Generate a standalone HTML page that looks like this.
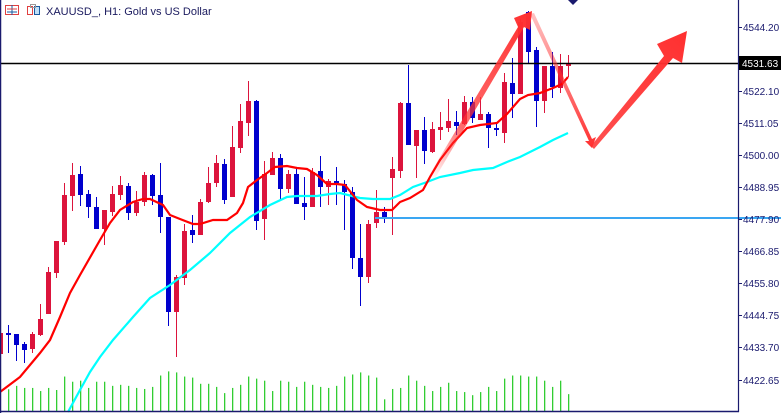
<!DOCTYPE html>
<html><head><meta charset="utf-8">
<style>
html,body{margin:0;padding:0;background:#fff;}
#c{position:relative;width:781px;height:413px;overflow:hidden;background:#fff;font-family:"Liberation Sans",sans-serif;}
</style></head>
<body>
<div id="c">
<svg id="s" width="781" height="413" viewBox="0 0 781 413" xmlns="http://www.w3.org/2000/svg" style="position:absolute;left:0;top:0">
<defs>
<linearGradient id="g1" x1="430" y1="178" x2="532" y2="12" gradientUnits="userSpaceOnUse">
<stop offset="0" stop-color="#ff3030" stop-opacity="0"/><stop offset="0.3" stop-color="#ff3030" stop-opacity="0.7"/><stop offset="1" stop-color="#ff3030" stop-opacity="1"/></linearGradient>
<linearGradient id="g2" x1="532" y1="14" x2="592" y2="148" gradientUnits="userSpaceOnUse">
<stop offset="0" stop-color="#ff3030" stop-opacity="0.3"/><stop offset="1" stop-color="#ff3030" stop-opacity="1"/></linearGradient>
<linearGradient id="g3" x1="592" y1="146" x2="687" y2="32" gradientUnits="userSpaceOnUse">
<stop offset="0" stop-color="#ff3030" stop-opacity="0.85"/><stop offset="1" stop-color="#ff3030" stop-opacity="1"/></linearGradient>
</defs>
<g id="vol"></g>
<g id="cand"></g>
<g id="ma"></g>
<line x1="0" y1="63.5" x2="739" y2="63.5" stroke="#000" stroke-width="1.5"/>
<line x1="375" y1="218" x2="781" y2="218" stroke="#3aa6f2" stroke-width="2"/>
<polygon points="428,177 518,27 514,18 532,11 530,30 524,27 434,180" fill="url(#g1)"/>
<polygon points="530,14 534,13 592,139 596,137 592,148 585,141 589,141" fill="url(#g2)"/>
<polygon points="591,146 664,56 657,44 687,31 682,63 673,58 594,149" fill="url(#g3)"/>
<polygon points="568,0 578,0 573,5" fill="#1a1a6e"/>
<line x1="0.5" y1="0" x2="0.5" y2="413" stroke="#1a1a6e" stroke-width="1.5"/>
<line x1="738.5" y1="0" x2="738.5" y2="412" stroke="#1a1a6e" stroke-width="1.2"/>
<line x1="0" y1="411.5" x2="739" y2="411.5" stroke="#1a1a6e" stroke-width="1.5"/>
<g id="ax" font-family="Liberation Sans, sans-serif" font-size="10" fill="#1a1a6e"></g>
<rect x="739" y="56" width="42" height="14" fill="#000"/>
<text x="742" y="67" font-family="Liberation Sans, sans-serif" font-size="10" fill="#fff">4531.63</text>
<g>
<rect x="5.5" y="5.5" width="13" height="9" fill="none" stroke="#e04040"/>
<line x1="12" y1="5" x2="12" y2="15" stroke="#1a5aa0"/>
<line x1="7" y1="9" x2="17" y2="9" stroke="#e04040"/><line x1="7" y1="12" x2="17" y2="12" stroke="#1a5aa0"/>
<rect x="27.5" y="6.5" width="5" height="8" fill="none" stroke="#e04040"/>
<rect x="34.5" y="6.5" width="5" height="8" fill="#bfe0f8" stroke="#1a5aa0"/>
<rect x="30.5" y="4.5" width="5" height="3" fill="none" stroke="#999"/>
</g>
<text x="46" y="15" font-family="Liberation Sans, sans-serif" font-size="11" fill="#1a1a5e">XAUUSD_, H1:  Gold vs US Dollar</text>
</svg>
</div>
<script>
var NS="http://www.w3.org/2000/svg";
function el(p,t,a){var e=document.createElementNS(NS,t);for(var k in a)e.setAttribute(k,a[k]);p.appendChild(e);return e;}
var D=[[325,360,333,354,'r'],[325,353,333,335,'b'],[334,361,334,345,'b'],[342,363,344,350,'b'],[332,353,334,349,'r'],[304,336,319,335,'r'],[267,314,272,314,'r'],[241,278,241,273,'r'],[183,245,195,242,'r'],[163,211,175,196,'r'],[166,206,174,195,'b'],[190,218,194,207,'b'],[197,229,207,229,'b'],[210,245,210,229,'r'],[186,216,194,212,'r'],[176,200,185,195,'r'],[183,220,186,213,'b'],[191,216,202,213,'r'],[172,206,175,202,'r'],[174,205,175,196,'b'],[163,233,195,217,'b'],[217,326,217,312,'b'],[275,357,277,312,'r'],[224,285,231,278,'r'],[215,243,230,235,'b'],[199,235,202,235,'r'],[167,203,183,202,'r'],[155,187,163,183,'r'],[159,204,164,200,'b'],[126,197,147,197,'r'],[104,153,121,148,'r'],[81,136,101,123,'r'],[100,230,101,221,'b'],[161,240,174,219,'r'],[152,175,158,175,'r'],[154,200,158,189,'b'],[170,193,174,189,'r'],[169,204,174,204,'b'],[177,220,203,207,'b'],[168,207,172,207,'r'],[156,207,171,187,'b'],[179,205,181,187,'r'],[167,205,181,183,'b'],[180,230,184,192,'b'],[187,269,192,258,'b'],[224,306,258,277,'b'],[220,283,224,277,'r'],[190,228,212,223,'r'],[207,223,212,217,'b'],[157,235,169,178,'r'],[102,178,103,171,'r'],[65,145,103,145,'b'],[130,178,130,146,'r'],[117,164,130,151,'b'],[122,153,129,152,'r'],[112,140,127,130,'r'],[99,132,121,128,'r'],[111,135,122,126,'b'],[96,125,102,124,'r'],[97,123,102,118,'b'],[97,120,114,120,'r'],[112,148,114,128,'b'],[122,136,128,130,'b'],[73,143,82,133,'r'],[58,118,83,94,'b'],[19,94,22,94,'r'],[11,64,12,52,'b'],[47,127,50,101,'b'],[66,113,66,101,'r'],[52,98,66,87,'b'],[54,93,66,88,'r'],[55,77,63,66,'r']];
var cg=document.getElementById('cand');
D.forEach(function(d,i){var x=Math.round(0.3+8*i);var c=d[4]=='r'?'#dc143c':'#0000cd';
el(cg,'rect',{x:x,y:d[0],width:1,height:d[1]-d[0],fill:c});
var h=Math.max(2,d[3]-d[2]);el(cg,'rect',{x:x-2,y:d[2],width:5,height:h,fill:c});});
var V=[85,75,81,81,90,81,87,48,63,60,81,63,63,75,72,75,81,84,78,45,33,36,48,51,69,69,78,96,81,72,48,54,60,90,60,63,78,63,72,78,81,75,48,42,36,45,51,114,84,81,45,60,75,90,78,66,90,93,102,93,78,90,54,45,45,48,48,60,78,60,99];
var vg=document.getElementById('vol');
V.forEach(function(t,j){var i=j+1;var x=Math.round(0.3+8*i);var y=360+t/2.9;el(vg,'rect',{x:x,y:y,width:1.3,height:411-y,fill:'#32cd32'});});
var mg=document.getElementById('ma');
var R=[[0,392],[20,377],[40,353],[50,340],[60,317],[70,293],[80,275],[100,240],[110,223],[120,210],[133,202],[143,199],[150,199],[163,205],[170,215],[180,219],[193,224],[200,224],[213,220],[227,220],[237,213],[243,203],[248,187],[257,180],[267,173],[275,167],[287,166],[297,168],[307,169],[317,175],[327,184],[337,184],[345,185],[357,200],[367,207],[380,210],[392,210],[400,202],[410,198],[423,190],[430,177],[440,160],[453,143],[467,128],[480,125],[497,123],[507,114],[520,99],[528,95],[540,93],[553,88],[562,84],[568,77]];
var C=[[68,412],[80,390],[90,372],[100,357],[113,340],[133,317],[150,298],[170,285],[190,270],[210,253],[230,233],[250,217],[270,205],[287,197],[297,196],[317,196],[330,194],[340,193],[360,198],[373,199],[390,199],[400,195],[413,187],[427,182],[440,177],[460,173],[473,170],[493,168],[507,162],[520,157],[540,147],[553,140],[568,133]];
el(mg,'polyline',{points:C.map(function(p){return p.join(',')}).join(' '),fill:'none',stroke:'#00ffff','stroke-width':2.2});
el(mg,'polyline',{points:R.map(function(p){return p.join(',')}).join(' '),fill:'none',stroke:'#ff0000','stroke-width':2.2});
var ag=document.getElementById('ax');
var L=[['4544.20',27],['4533.15',59],['4522.10',91],['4511.05',123],['4500.00',155],['4488.95',187],['4477.90',219],['4466.85',251],['4455.80',283],['4444.75',315],['4433.70',347],['4422.65',380]];
L.forEach(function(l){el(ag,'line',{x1:739,y1:l[1]+0.5,x2:742,y2:l[1]+0.5,stroke:'#1a1a6e'});var t=el(ag,'text',{x:743,y:l[1]+4});t.textContent=l[0];});
</script>
</body></html>
